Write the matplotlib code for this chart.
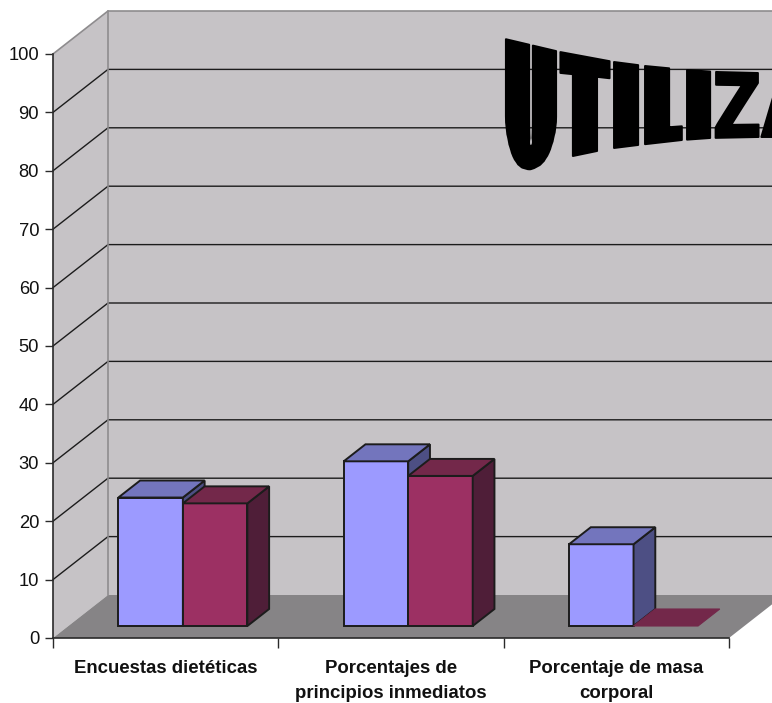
import numpy as np
import matplotlib
matplotlib.use('Agg')
import matplotlib.pyplot as plt
import matplotlib.patheffects as pe
from matplotlib.path import Path
from matplotlib.transforms import IdentityTransform

categories = ['Encuestas dietéticas', 'Porcentajes de\nprincipios inmediatos', 'Porcentaje de masa\ncorporal']
serie_a = [22, 28.2, 14]
serie_b = [21, 25.7, 0]
y_ticks = list(range(0, 101, 10))
title = 'UTILIZA'

W, H = 772, 703
wall = '#c6c3c6'
floor = '#868486'
line = '#1c1c1c'
edge_gray = '#8e8c8e'
blue = ['#9c9aff', '#7375bd', '#4d4f84']
red = ['#9c3063', '#73284a', '#4f1e38']

# oblique depth: one full depth moves 55 px right and 43 px up
px_x = 676 / 3
px_y = 584 / 100
depth_x = 55 / px_x
depth_y = 43 / px_y

fig = plt.figure(figsize=(W / 100, H / 100), dpi=100)
ax = fig.add_axes([53 / W, (H - 638) / H, 676 / W, 584 / H])
ax.set_xlim(0, 3)
ax.set_ylim(0, 100)
ax.patch.set_visible(False)


def pr(x, v, d):
    return x + d * depth_x, v + d * depth_y


def quad(points, color, ec=line, lw=1.4, z=3):
    xy = [pr(*p) for p in points]
    ax.fill([p[0] for p in xy], [p[1] for p in xy], facecolor=color, edgecolor=ec,
            linewidth=lw, clip_on=False, zorder=z, joinstyle='miter')


def bar3d(x0, w, v, cols, z):
    d0, d1 = 12 / 43, 29 / 43
    if v > 0:
        quad([(x0, 0, d0), (x0 + w, 0, d0), (x0 + w, v, d0), (x0, v, d0)], cols[0], z=z)
        quad([(x0 + w, 0, d0), (x0 + w, 0, d1), (x0 + w, v, d1), (x0 + w, v, d0)], cols[2], z=z)
        quad([(x0, v, d0), (x0 + w, v, d0), (x0 + w, v, d1), (x0, v, d1)], cols[1], z=z)
    else:
        quad([(x0, v, d0), (x0 + w, v, d0), (x0 + w, v, d1), (x0, v, d1)], cols[1], ec=cols[1], lw=0.8, z=z)


# walls and floor
quad([(0, 0, 0), (0, 100, 0), (0, 100, 1), (0, 0, 1)], wall, ec='none', lw=0, z=1)
quad([(0, 0, 1), (0, 100, 1), (3, 100, 1), (3, 0, 1)], wall, ec='none', lw=0, z=1)
quad([(0, 0, 0), (3, 0, 0), (3, 0, 1), (0, 0, 1)], floor, ec='none', lw=0, z=1)

for v in y_ticks[1:-1]:
    xs, ys = zip(pr(0, v, 0), pr(0, v, 1), pr(3, v, 1))
    ax.plot(xs, ys, color=line, lw=1.0, clip_on=False, zorder=2)
xs, ys = zip(pr(0, 100, 0), pr(0, 100, 1), pr(3, 100, 1))
ax.plot(xs, ys, color=edge_gray, lw=1.2, clip_on=False, zorder=2)
xs, ys = zip(pr(0, 0, 1), pr(0, 100, 1))
ax.plot(xs, ys, color=edge_gray, lw=1.2, clip_on=False, zorder=2)

# bars
bar_w = 64.5 / px_x
for i in range(len(categories)):
    x0 = i + 0.222
    bar3d(x0, bar_w, serie_a[i], blue, 3 + i)
    bar3d(x0 + bar_w, bar_w, serie_b[i], red, 3.5 + i)

# axes
for s in ['top', 'right']:
    ax.spines[s].set_visible(False)
for s in ['left', 'bottom']:
    ax.spines[s].set_color('#2a2a2a')
    ax.spines[s].set_linewidth(1.2)
    ax.spines[s].set_zorder(2.5)
ax.set_yticks(y_ticks)
ax.set_xticks(range(len(categories) + 1))
ax.set_xticklabels([])
ax.set_xticks([i + 0.5 for i in range(len(categories))], minor=True)
ax.set_xticklabels(categories, minor=True, family='Liberation Sans', fontweight='bold',
                   fontsize=13.4, linespacing=1.62, color='#111111')
ax.tick_params(axis='x', which='major', length=7, width=1, color='#2a2a2a')
ax.tick_params(axis='x', which='minor', length=0, pad=15.5)
ax.tick_params(axis='y', length=6, width=1, color='#2a2a2a', pad=4)
for t in ax.get_yticklabels():
    t.set_family('Liberation Sans')
    t.set_fontsize(13.2)
    t.set_color('#111111')


# wordart title: real text, its glyph outlines bent between two curves
font_x = [174, 551, 1112, 1489, 1657, 2174, 2551, 3066, 3248, 3625, 4010, 4387, 5079,
          5315, 5692, 6002, 7261, 7374, 8959]
page_x = [505, 529, 533, 557, 560, 573, 597, 610, 614, 638, 645, 669, 682,
          687, 710, 716, 758, 761, 815]
curve_x = [505, 560, 614, 645, 687, 717, 758, 815]
curve_top = [39, 52, 62, 66, 70, 72, 73, 74]
low_x = [505, 530, 557, 573, 597, 614, 638, 682, 710, 758, 815]
curve_low = [167, 167, 160, 156, 151, 148, 145, 140, 138, 137, 137]


class Bend(pe.AbstractPathEffect):
    def draw_path(self, renderer, gc, tpath, affine, rgbFace=None):
        polys = []
        for poly in tpath.to_polygons(closed_only=True):
            # split long edges so that they follow the curves
            dense = []
            for a, b in zip(poly[:-1], poly[1:]):
                dense.append(np.linspace(a, b, 12, endpoint=False))
            dense.append(poly[-1:])
            dense = np.vstack(dense)
            fx = dense[:, 0] * 20.48
            fy = dense[:, 1] * 20.48
            x = np.interp(fx, font_x, page_x)
            # bottom of the U stays round instead of pinched
            in_u = fx < 1600
            t = np.clip((350 - fy) / 350, 0, 1)
            round_x = 505 + (fx - 174) * 52 / 1315
            x[in_u] = ((1 - t) * x + t * round_x)[in_u]
            top = np.interp(x, curve_x, curve_top)
            low = np.interp(x, low_x, curve_low)
            y = low + (top - low) * fy / 1493
            polys.append(Path(np.column_stack([x, H - y]), closed=True))
        gc0 = renderer.new_gc()
        gc0.copy_properties(gc)
        gc0.set_linewidth(1.4)
        gc0.set_foreground('black')
        renderer.draw_path(gc0, Path.make_compound_path(*polys), IdentityTransform(), rgbFace)
        gc0.restore()


fig.text(505 / W, (H - 140) / H, title, family='DejaVu Sans', fontweight='bold', fontsize=40,
         color='black', zorder=20, path_effects=[Bend()])

fig.savefig('out.png', dpi=100, facecolor='white')
